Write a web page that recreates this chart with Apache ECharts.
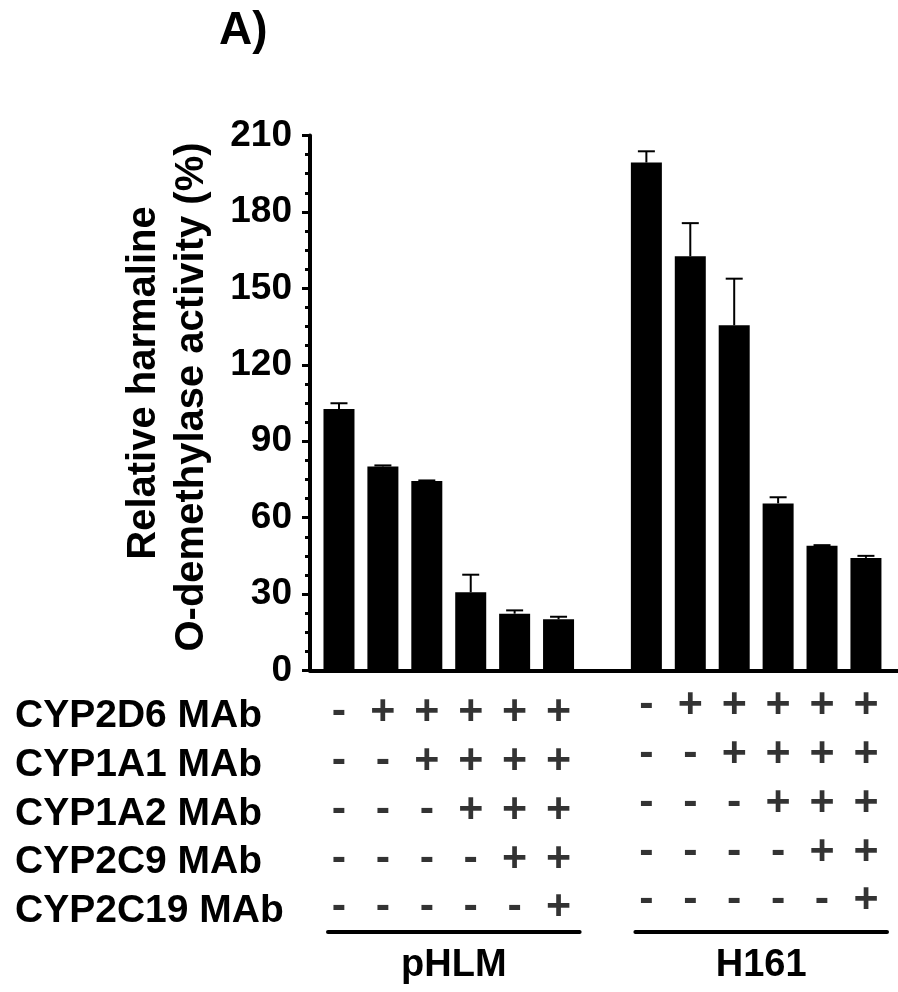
<!DOCTYPE html>
<html>
<head>
<meta charset="utf-8">
<script src="https://cdn.jsdelivr.net/npm/echarts@6/dist/echarts.min.js"></script>
<style>
html,body{margin:0;padding:0;background:#fff;}
#chart{width:898px;height:992px;}
</style>
</head>
<body>
<div id="chart"></div>
<script>
// ---- data ----
const groups = ['pHLM', 'H161'];
const rowLabels = ['CYP2D6 MAb', 'CYP1A1 MAb', 'CYP1A2 MAb', 'CYP2C9 MAb', 'CYP2C19 MAb'];
const pHLMValues = [102.6, 80.1, 74.4, 30.7, 22.3, 20.1];
const pHLMErrors = [2.3, 0.4, 0.2, 6.9, 1.3, 1.0];
const h161Values = [199.4, 162.6, 135.5, 65.6, 49.0, 44.2];
const h161Errors = [4.4, 13.0, 18.3, 2.4, 0.2, 0.8];
const pHLMSigns = [
  ['-', '+', '+', '+', '+', '+'],
  ['-', '-', '+', '+', '+', '+'],
  ['-', '-', '-', '+', '+', '+'],
  ['-', '-', '-', '-', '+', '+'],
  ['-', '-', '-', '-', '-', '+']
];
const h161Signs = [
  ['-', '+', '+', '+', '+', '+'],
  ['-', '-', '+', '+', '+', '+'],
  ['-', '-', '-', '+', '+', '+'],
  ['-', '-', '-', '-', '+', '+'],
  ['-', '-', '-', '-', '-', '+']
];
const yTicks = { min: 0, max: 210, interval: 30 };
const yTitleLines = ['Relative harmaline', 'O-demethylase activity (%)'];
const panelLabel = 'A)';

// ---- layout helpers ----
const FONT = 'Liberation Sans, Arial, Helvetica, sans-serif';
const groupStart = [0, 7]; // slot index where each group begins (one empty slot between groups)

function barData(vals, start) { return vals.map((v, i) => [start + i, v]); }
function errData(vals, errs, start) { return vals.map((v, i) => [start + i, v, errs[i]]); }
function signData(signs, start) {
  const out = [];
  signs.forEach((row, r) => row.forEach((s, i) => out.push([start + i, r, s])));
  return out;
}

const chart = echarts.init(document.getElementById('chart'), null, { renderer: 'canvas' });

const xRange = { min: -0.66, max: 12.73 };
const titleStyle = { fontSize: 40, fontWeight: 'bold', color: '#000', fontFamily: FONT, lineHeight: 48 };

const option = {
  animation: false,
  backgroundColor: '#fff',
  textStyle: { fontFamily: FONT },
  title: {
    text: panelLabel, left: 219, top: 8, padding: 0,
    textStyle: { fontSize: 46, fontWeight: 'bold', color: '#000', fontFamily: FONT }
  },
  grid: [
    { left: 310, right: 0, top: 135.5, bottom: 321.5 },
    { left: 310, right: 0, top: 691.5, bottom: 56 }
  ],
  xAxis: [
    {
      type: 'value', gridIndex: 0, min: xRange.min, max: xRange.max,
      axisLine: { show: true, onZero: false, lineStyle: { color: '#000', width: 4 } },
      axisTick: { show: false }, axisLabel: { show: false }, splitLine: { show: false }
    },
    {
      type: 'value', gridIndex: 1, min: xRange.min, max: xRange.max, show: false,
      splitLine: { show: false }
    }
  ],
  yAxis: [
    {
      type: 'value', gridIndex: 0, min: yTicks.min, max: yTicks.max, interval: yTicks.interval,
      name: '{a|' + yTitleLines[0] + '}\n{b|' + yTitleLines[1] + '}',
      nameLocation: 'middle', nameRotate: 90, nameGap: 94,
      nameTextStyle: {
        fontSize: 40, fontWeight: 'bold', color: '#000', lineHeight: 48, fontFamily: FONT, align: 'center',
        rich: {
          a: Object.assign({}, titleStyle, { padding: [0, 0, 0, 40] }),
          b: Object.assign({}, titleStyle, { padding: [0, 0, 0, 12] })
        }
      },
      axisLine: { show: true, onZero: false, lineStyle: { color: '#000', width: 4 } },
      axisTick: { show: true, length: 8, lineStyle: { color: '#000', width: 3 } },
      minorTick: { show: true, splitNumber: 4, length: 5, lineStyle: { color: '#000', width: 3 } },
      axisLabel: { fontSize: 37, fontWeight: 'bold', color: '#000', margin: 18, fontFamily: FONT },
      splitLine: { show: false }
    },
    {
      type: 'category', gridIndex: 1, data: rowLabels, inverse: true,
      axisLine: { show: false }, axisTick: { show: false },
      axisLabel: { interval: 0, align: 'left', margin: 295, fontSize: 39, fontWeight: 'bold', color: '#000', fontFamily: FONT },
      splitLine: { show: false }
    }
  ],
  series: [
    {
      type: 'bar', xAxisIndex: 0, yAxisIndex: 0, barWidth: 31,
      itemStyle: { color: '#000' }, data: barData(pHLMValues, groupStart[0])
    },
    {
      type: 'bar', xAxisIndex: 0, yAxisIndex: 0, barWidth: 31, barGap: '-100%',
      itemStyle: { color: '#000' }, data: barData(h161Values, groupStart[1])
    },
    {
      type: 'custom', xAxisIndex: 0, yAxisIndex: 0,
      data: errData(pHLMValues, pHLMErrors, groupStart[0]).concat(errData(h161Values, h161Errors, groupStart[1])),
      renderItem: function (params, api) {
        const x = api.value(0), v = api.value(1), e = api.value(2);
        const p0 = api.coord([x, v]);
        const p1 = api.coord([x, v + e]);
        const hw = 8.5;
        const st = { stroke: '#000', lineWidth: 2, fill: null };
        return {
          type: 'group', children: [
            { type: 'line', shape: { x1: p0[0], y1: p0[1], x2: p1[0], y2: p1[1] }, style: st },
            { type: 'line', shape: { x1: p1[0] - hw, y1: p1[1], x2: p1[0] + hw, y2: p1[1] }, style: st }
          ]
        };
      },
      z: 3
    },
    {
      type: 'scatter', xAxisIndex: 1, yAxisIndex: 1, symbolSize: 1,
      itemStyle: { color: 'rgba(0,0,0,0)' },
      label: { show: true, position: 'inside', formatter: p => p.data[2], offset: [0, -4],
        fontSize: 43, fontWeight: 'bold', color: '#000', fontFamily: FONT },
      data: signData(pHLMSigns, groupStart[0])
    },
    {
      type: 'scatter', xAxisIndex: 1, yAxisIndex: 1, symbolSize: 1,
      itemStyle: { color: 'rgba(0,0,0,0)' },
      label: { show: true, position: 'inside', formatter: p => p.data[2], offset: [0, -11],
        fontSize: 43, fontWeight: 'bold', color: '#000', fontFamily: FONT },
      data: signData(h161Signs, groupStart[1])
    }
  ]
};
chart.setOption(option);

// group underlines and names, placed through the x scale
const px = v => chart.convertToPixel({ xAxisIndex: 0 }, v);
const groupSizes = [pHLMValues.length, h161Values.length];
const gfx = [];
groups.forEach((g, k) => {
  const a = px(groupStart[k] - 0.25);
  const b = px(groupStart[k] + groupSizes[k] - 1 + 0.48);
  gfx.push({ type: 'line', shape: { x1: a, y1: 932, x2: b, y2: 932 },
    style: { stroke: '#000', lineWidth: 4, lineCap: 'round' } });
  gfx.push({ type: 'text', x: (a + b) / 2, y: 966,
    style: { text: g, fontSize: 38, fontWeight: 'bold', fill: '#000', fontFamily: FONT,
      align: 'center', verticalAlign: 'middle' } });
});
chart.setOption({ graphic: gfx });
</script>
</body>
</html>
